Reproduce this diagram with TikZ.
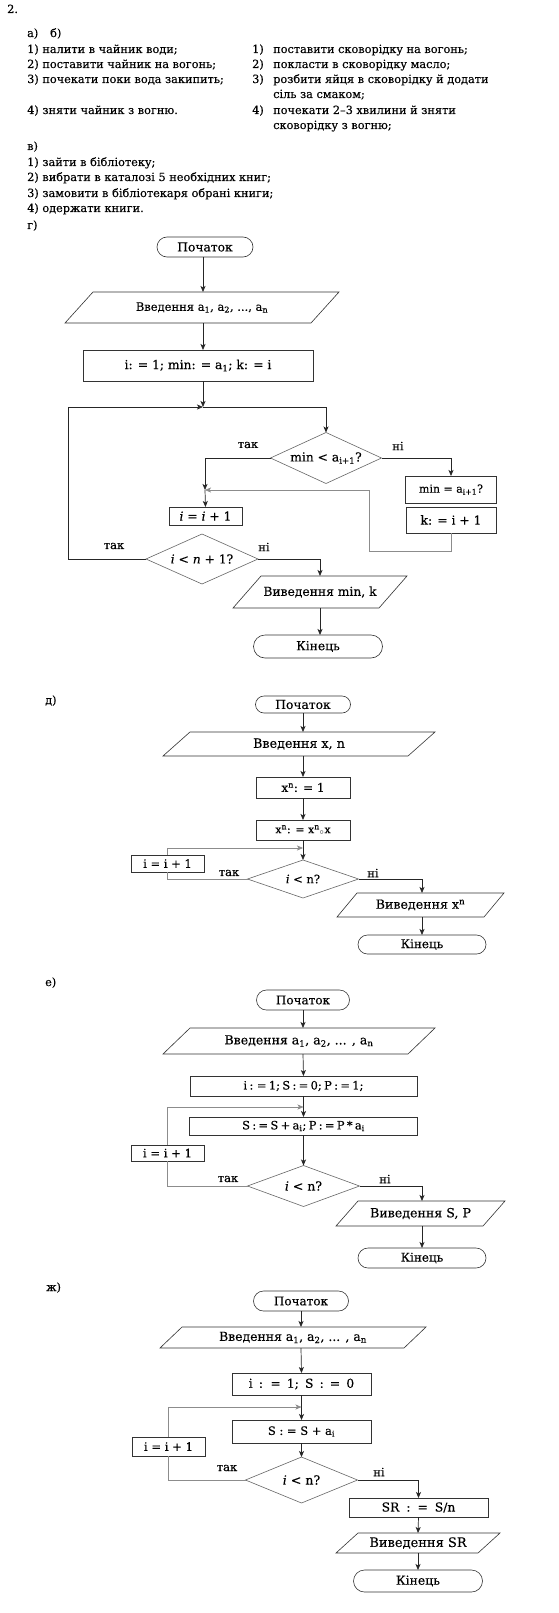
\documentclass[tikz,border=0pt]{standalone}
\usepackage{fontspec}
\setmainfont{DejaVu Serif}[FakeBold=0.2]
\usetikzlibrary{shapes.geometric,shapes.misc,arrows.meta,calc}
\newcommand\paradraw[2]{\draw[shp] ([xshift=#2]#1.north west) -- ([xshift=#2]#1.north east) -- ([xshift=-#2]#1.south east) -- ([xshift=-#2]#1.south west) -- cycle;}
\tikzset{
  lt/.style={anchor=base west, inner sep=0pt, font=\fontsize{11.3}{13}\selectfont},
  fs/.style={font=\fontsize{#1}{#1}\selectfont},
  fc/.style={inner sep=0pt, outer sep=0pt, fs=12.3},
  shp/.style={draw=black!80, line width=0.6pt},
  term/.style={fc, shp, rounded rectangle},
  proc/.style={fc, shp, rectangle},
  io/.style={fc, rectangle},
  dec/.style={fc, diamond, draw=black!60, line width=0.6pt, aspect=2.6},
  arr/.style={-{Stealth[length=6pt,width=5pt,inset=1.5pt]}, line width=0.7pt, draw=black!85},
  loopc/.style={draw=black!45, line width=0.6pt},
  lab/.style={inner sep=0pt, fs=11.5},
}
\begin{document}
\begin{tikzpicture}[x=1pt,y=-1pt]
\useasboundingbox (0,0) rectangle (558,1613);
\fill[white] (0,0) rectangle (558,1613);
% ---------- list ----------
\node[lt] (t0) at (7,13) {2.};
\node[lt] (ta) at (27,37) {а)};
\node[lt] (tb) at (50,37) {б)};
\node[lt] (a1) at (27,53) {1) налити в чайник води;};
\node[lt] (a2) at (27,68) {2) поставити чайник на вогонь;};
\node[lt] (a3) at (27,83) {3) почекати поки вода закипить;};
\node[lt] (a4) at (27,114) {4) зняти чайник з вогню.};
\node[lt] (b1n) at (252,53) {1)};
\node[lt] (b1) at (273,53) {поставити сковорідку на вогонь;};
\node[lt] (b2n) at (252,68) {2)};
\node[lt] (b2) at (273,68) {покласти в сковорідку масло;};
\node[lt] (b3n) at (252,83) {3)};
\node[lt] (b3) at (273,83) {розбити яйця в сковорідку й додати};
\node[lt] (b3b) at (273,98) {сіль за смаком;};
\node[lt] (b4n) at (252,114) {4)};
\node[lt] (b4) at (273,114) {почекати 2–3 хвилини й зняти};
\node[lt] (b4b) at (273,129) {сковорідку з вогню;};
\node[lt] (tv) at (27,150) {в)};
\node[lt] (v1) at (27,166) {1) зайти в бібліотеку;};
\node[lt] (v2) at (27,181) {2) вибрати в каталозі 5 необхідних книг;};
\node[lt] (v3) at (27,197) {3) замовити в бібліотекаря обрані книги;};
\node[lt] (v4) at (27,212) {4) одержати книги.};
\node[lt] (tg) at (27,229) {г)};
% ---------- г ----------
\node[term, minimum width=96pt, minimum height=20pt] (g0) at (205,247) {Початок};
\node[io, fs=11.5, minimum width=246pt, minimum height=31pt] (g1) at (202,307.5) {Введення a\textsubscript{1}, a\textsubscript{2}, ..., a\textsubscript{n}};
\paradraw{g1}{14pt}
\node[proc, minimum width=230pt, minimum height=31pt] (g2) at (198,365.5) {i: = 1; min: = a\textsubscript{1}; k: = i};
\coordinate (gj) at (203,407);
\coordinate (gl) at (68,407);
\node[dec, minimum width=111pt, minimum height=51pt] (gd1) at (326,458) {min < a\textsubscript{i+1}?};
\coordinate (gm) at (205,490);
\node[proc, minimum width=73pt, minimum height=18pt] (g3) at (205.5,516) {\textit{i} = \textit{i} + 1};
\node[proc, fs=11, minimum width=91pt, minimum height=27pt] (g4) at (451,489.5) {min = a\textsubscript{i+1}?};
\node[proc, minimum width=90pt, minimum height=26pt] (g5) at (451,520) {k: = i + 1};
\coordinate (gf) at (369,551);
\node[dec, minimum width=112pt, minimum height=50pt] (gd2) at (202,559) {\textit{i} < \textit{n} + 1?};
\node[io, minimum width=146pt, minimum height=32pt] (g6) at (320,592) {Виведення min, k};
\paradraw{g6}{14pt}
\node[term, minimum width=129pt, minimum height=23pt] (g7) at (318,646.5) {Кінець};
\node[lab] (gt1) at (248,445) {так};
\node[lab] (gn1) at (398,446) {ні};
\node[lab] (gt2) at (114,546) {так};
\node[lab] (gn2) at (264,547) {ні};
\draw[arr] (gj |- g0.south) -- (gj |- g1.north);
\draw[arr] (gj |- g1.south) -- (gj |- g2.north);
\draw[arr] (gj |- g2.south) -- (gj);
\draw[arr] (gj) -| (gd1.north);
\draw[arr] (gd1.west) -| (gm);
\draw[arr] (gm) -- (g3.north);
\draw[arr] (gd1.east) -| (g4.north);
\draw[arr, loopc] (g5.south) |- (gf) |- (gm);
\draw[arr] (gd2.west) -| (gl) -- (gj);
\draw[arr] (gd2.east) -| (g6.north);
\draw[arr] (g6.south) -- (g6.south |- g7.north);
% ---------- д ----------
\node[lt] (td) at (45,704) {д)};
\node[term, minimum width=95pt, minimum height=17pt] (d0) at (303,704.5) {Початок};
\node[io, fs=12.7, minimum width=245pt, minimum height=24pt] (d1) at (299,744) {Введення x, n};
\paradraw{d1}{13.5pt}
\node[proc, fs=12, minimum width=94pt, minimum height=21pt] (d2) at (303,787.5) {x\textsuperscript{n}: = 1};
\node[proc, fs=11, minimum width=94pt, minimum height=20pt] (d3) at (303,830) {x\textsuperscript{n}: = x\textsuperscript{n}\textsubscript{$\circ$}x};
\coordinate (dj) at (303,848);
\node[dec, fs=11.5, minimum width=111pt, minimum height=38pt] (dd) at (303,879) {\textit{i} < n?};
\node[proc, fs=11.5, minimum width=73pt, minimum height=17pt] (d4) at (167.5,863.5) {i = i + 1};
\node[io, fs=12.6, minimum width=147pt, minimum height=24pt] (d5) at (420.5,905) {Виведення x\textsuperscript{n}};
\paradraw{d5}{10pt}
\node[term, fs=12, minimum width=128pt, minimum height=19pt] (d6) at (422,944.5) {Кінець};
\node[lab] (dt) at (229,873) {так};
\node[lab] (dn) at (373,873) {ні};
\draw[arr] (d0.south) -- (d0.south |- d1.north);
\draw[arr] (d0.south |- d1.south) -- (d2.north);
\draw[arr] (d2.south) -- (d3.north);
\draw[arr] (d3.south) -- (dd.north);
\draw[loopc] (dd.west) -| (d4.south);
\draw[arr, loopc] (d4.north) |- (dj);
\draw[arr] (dd.east) -| (d6.north |- d5.north);
\draw[arr] (d6.north |- d5.south) -- (d6.north);
% ---------- е ----------
\node[lt] (te) at (45,986) {е)};
\node[term, fs=12, minimum width=93pt, minimum height=20pt] (e0) at (303,1000) {Початок};
\node[io, fs=12.5, minimum width=245pt, minimum height=26pt] (e1) at (299,1041) {Введення a\textsubscript{1}, a\textsubscript{2}, ... , a\textsubscript{n}};
\paradraw{e1}{13.5pt}
\node[proc, fs=11.5, minimum width=227pt, minimum height=20pt] (e2) at (303.5,1086) {\spaceskip=0.2em\relax i : = 1; S : = 0; P : = 1;};
\coordinate (ej) at (303.5,1107);
\node[proc, fs=11.5, minimum width=228pt, minimum height=18pt] (e3) at (303.5,1126) {\spaceskip=0.2em\relax S : = S + a\textsubscript{i}; P : = P * a\textsubscript{i}};
\node[dec, fs=12.5, minimum width=112pt, minimum height=41pt] (ed) at (303.5,1186) {\textit{i} < n?};
\node[proc, fs=11.6, minimum width=73pt, minimum height=16pt] (e4) at (167.5,1153) {i = i + 1};
\node[io, fs=12.6, minimum width=147pt, minimum height=25pt] (e5) at (420.5,1213.5) {Виведення S, P};
\paradraw{e5}{11pt}
\node[term, fs=12, minimum width=128pt, minimum height=20pt] (e6) at (422,1258) {Кінець};
\node[lab] (et) at (228,1179) {так};
\node[lab] (en) at (385,1179) {ні};
\draw[arr] (e0.south) -- (e0.south |- e1.north);
\draw[arr] (e0.south |- e1.south) -- (e2.north);
\draw[arr] (e2.south) -- (e3.north);
\draw[arr] (e3.south) -- (ed.north);
\draw[loopc] (ed.west) -| (e4.south);
\draw[arr, loopc] (e4.north) |- (ej);
\draw[arr] (ed.east) -| (e6.north |- e5.north);
\draw[arr] (e6.north |- e5.south) -- (e6.north);
% ---------- ж ----------
\node[lt] (tz) at (46,1291) {ж)};
\node[term, fs=12, minimum width=95pt, minimum height=20pt] (z0) at (301,1301) {Початок};
\node[io, fs=12.4, minimum width=244pt, minimum height=21pt] (z1) at (293,1337.5) {Введення a\textsubscript{1}, a\textsubscript{2}, ... , a\textsubscript{n}};
\paradraw{z1}{11pt}
\node[proc, fs=12.3, minimum width=139pt, minimum height=22pt] (z2) at (301.5,1384) {\spaceskip=0.5em\relax i : = 1; S : = 0};
\coordinate (zj) at (301.5,1407);
\node[proc, fs=11.5, minimum width=139pt, minimum height=23pt] (z3) at (301.5,1431.5) {S : = S + a\textsubscript{i}};
\node[dec, fs=12.6, minimum width=112pt, minimum height=46pt] (zd) at (301.5,1480) {\textit{i} < n?};
\node[proc, fs=11.6, minimum width=73pt, minimum height=19pt] (z4) at (168.5,1446.5) {i = i + 1};
\node[proc, fs=12.3, minimum width=139pt, minimum height=19pt] (z5) at (418.5,1507.5) {\spaceskip=0.57em\relax SR : = S/n};
\node[io, fs=13, minimum width=142pt, minimum height=20pt] (z6) at (418,1543) {Виведення SR};
\paradraw{z6}{11pt}
\node[term, fs=12.4, minimum width=129pt, minimum height=22pt] (z7) at (418,1581) {Кінець};
\node[lab] (zt) at (227,1468) {так};
\node[lab] (zn) at (379,1472) {ні};
\draw[arr] (z0.south) -- (z0.south |- z1.north);
\draw[arr] (z0.south |- z1.south) -- (z2.north);
\draw[arr] (z2.south) -- (z3.north);
\draw[arr] (z3.south) -- (zd.north);
\draw[loopc] (zd.west) -| (z4.south);
\draw[arr, loopc] (z4.north) |- (zj);
\draw[arr] (zd.east) -| (z5.north);
\draw[arr] (z5.south) -- (z6.north);
\draw[arr] (z6.south) -- (z7.north);
\end{tikzpicture}
\end{document}
